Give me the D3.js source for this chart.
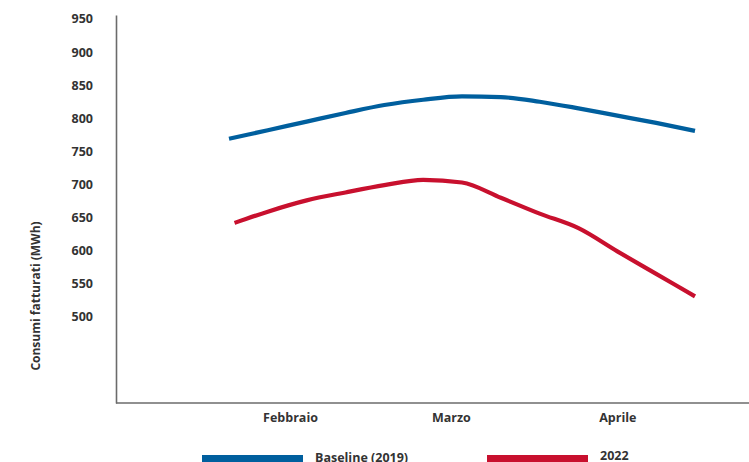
<!DOCTYPE html>
<html>
<head>
<meta charset="utf-8">
<script src="https://cdn.jsdelivr.net/npm/d3@7"></script>
<style>
  html, body { margin: 0; padding: 0; background: #fff; }
  svg { display: block; font-family: "Open Sans", Lato, sans-serif; font-weight: 700; }
</style>
</head>
<body>
<svg id="chart" width="749" height="462"></svg>
<script>
// Weekly billed consumption (MWh)
const weeks = ["2022-02-04","2022-02-11","2022-02-18","2022-02-25","2022-03-04","2022-03-11",
               "2022-03-18","2022-03-25","2022-04-01","2022-04-08","2022-04-15","2022-04-22","2022-04-29"];
const baseline2019 = [769, 782, 795, 808, 820, 828, 833, 832, 825, 815, 804, 793, 781];
const weeks2022    = ["2022-02-05","2022-02-11","2022-02-18","2022-02-25","2022-03-04","2022-03-11",
                      "2022-03-18","2022-03-25","2022-04-01","2022-04-08","2022-04-15","2022-04-22","2022-04-29"];
const values2022   = [642, 659, 676, 688, 699, 707, 703, 680, 656, 634, 599, 565, 531];

// Month labels sit at the middle of each month
const monthTicks  = ["2022-02-15","2022-03-16","2022-04-15"];
const monthLabels = ["Febbraio", "Marzo", "Aprile"];
const yTicks = [500, 550, 600, 650, 700, 750, 800, 850, 900, 950];

const seriesNames  = ["Baseline (2019)", "2022"];
const seriesColors = ["#005f9e", "#c8102e"];

const parse = d3.timeParse("%Y-%m-%d");
const dates = weeks.map(parse);
const dates2022 = weeks2022.map(parse);

const svg = d3.select("#chart");
const W = 749;
const plotLeft = 116, plotBottom = 403, plotTop = 15;
const FONT = "'Open Sans', Lato, sans-serif";

const x = d3.scaleTime()
  .domain(d3.extent(dates))
  .range([229, 695]);

const y = d3.scaleLinear()
  .domain([370, 956])
  .range([plotBottom, plotTop]);

// Y axis
const yAxis = svg.append("g")
  .attr("transform", `translate(${plotLeft},0)`)
  .call(d3.axisLeft(y).tickValues(yTicks).tickSize(0).tickPadding(23).tickSizeOuter(0));
yAxis.select(".domain").attr("stroke", "#6b6b6b").attr("stroke-width", 1.6);
yAxis.selectAll("text")
  .attr("fill", "#333").style("font-size", "12.5px").style("font-weight", 700)
  .style("font-family", FONT);

// X axis
svg.append("line")
  .attr("x1", plotLeft).attr("x2", W)
  .attr("y1", plotBottom).attr("y2", plotBottom)
  .attr("stroke", "#6b6b6b").attr("stroke-width", 1.6);

const xAxis = svg.append("g")
  .attr("transform", `translate(0,${plotBottom})`)
  .call(d3.axisBottom(x)
    .tickValues(monthTicks.map(parse))
    .tickFormat((d, i) => monthLabels[i])
    .tickSize(0).tickPadding(10));
xAxis.select(".domain").remove();
xAxis.selectAll("text")
  .attr("fill", "#333").style("font-size", "12.5px").style("font-weight", 700)
  .style("font-family", FONT);

// Y axis title
svg.append("text")
  .attr("transform", "translate(40,296) rotate(-90)")
  .attr("text-anchor", "middle")
  .attr("fill", "#333")
  .style("font-size", "12px")
  .text("Consumi fatturati (MWh)");

// Lines
const line = d3.line()
  .x(d => x(d[0]))
  .y(d => y(d[1]))
  .curve(d3.curveMonotoneX);

const series = [
  d3.zip(dates, baseline2019),
  d3.zip(dates2022, values2022)
];

series.forEach((pts, k) => {
  svg.append("path")
    .datum(pts)
    .attr("d", line)
    .attr("fill", "none")
    .attr("stroke", seriesColors[k])
    .attr("stroke-width", 4.2);
});

// Legend
const legendX = [202, 487];
const legend = svg.append("g");
seriesNames.forEach((name, k) => {
  legend.append("rect")
    .attr("x", legendX[k]).attr("y", 455)
    .attr("width", 101).attr("height", 12)
    .attr("fill", seriesColors[k]);
  legend.append("text")
    .attr("x", legendX[k] + 113)
    .attr("y", k === 0 ? 461.5 : 459.5)
    .attr("fill", "#333")
    .style("font-size", "12.5px")
    .text(name);
});
</script>
</body>
</html>
